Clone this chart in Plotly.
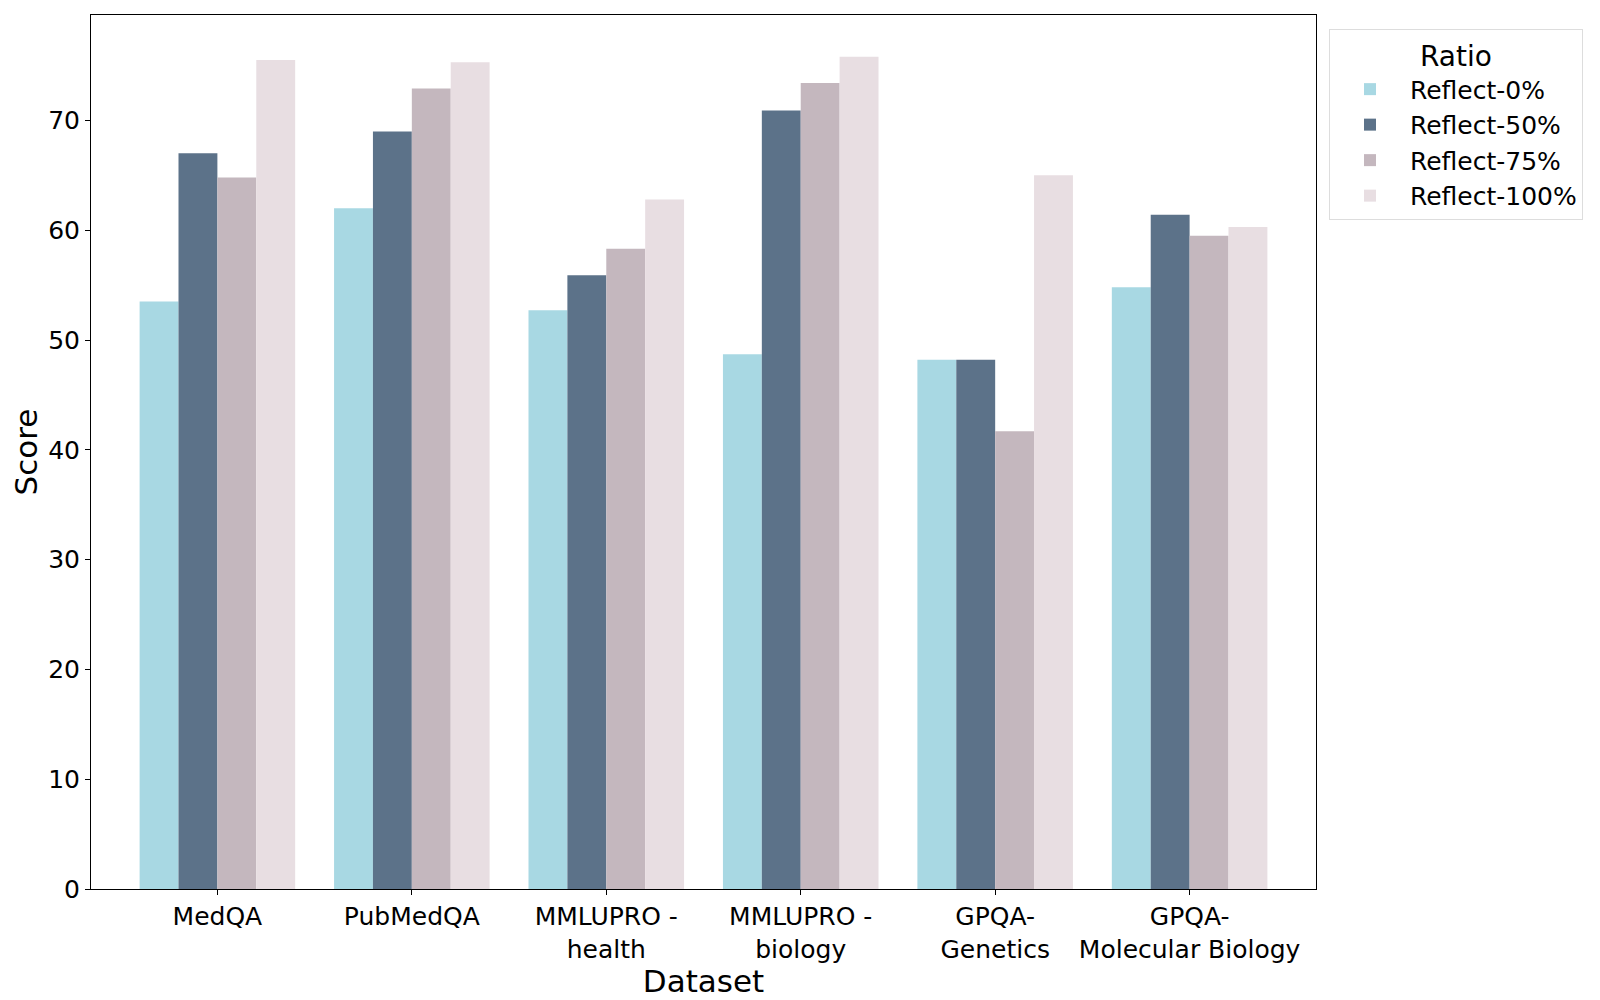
import plotly.graph_objects as go

categories = ["MedQA", "PubMedQA", "MMLUPRO -<br>health", "MMLUPRO -<br>biology",
              "GPQA-<br>Genetics", "GPQA-<br>Molecular Biology"]
series_names = ["Reflect-0%", "Reflect-50%", "Reflect-75%", "Reflect-100%"]
reflect_0 = [53.5, 62.0, 52.7, 48.7, 48.2, 54.8]
reflect_50 = [67.0, 69.0, 55.9, 70.9, 48.2, 61.4]
reflect_75 = [64.8, 72.9, 58.3, 73.4, 41.7, 59.5]
reflect_100 = [75.5, 75.3, 62.8, 75.8, 65.0, 60.3]
colors = ["#A8D8E3", "#5C7289", "#C4B7BE", "#E8DEE2"]
y_ticks = [0, 10, 20, 30, 40, 50, 60, 70]

font_family = "DejaVu Sans"
fig = go.Figure()
for name, vals, col in zip(series_names, [reflect_0, reflect_50, reflect_75, reflect_100], colors):
    fig.add_trace(go.Bar(x=list(range(len(categories))), y=vals, name=name,
                         marker=dict(color=col, line=dict(width=0))))

fig.update_layout(
    width=1600, height=1000,
    barmode="group", bargap=0.2, bargroupgap=0,
    plot_bgcolor="white", paper_bgcolor="white",
    margin=dict(l=83, r=292, t=7, b=119),
    font=dict(family=font_family, size=25, color="black"),
    legend=dict(
        title=dict(text="Ratio", font=dict(size=28), side="top center"),
        x=1.0106, y=0.984, xanchor="left", yanchor="top",
        bordercolor="#DDDDDD", borderwidth=1, bgcolor="white",
        font=dict(size=25), itemsizing="constant", itemwidth=70,
    ),
)
fig.update_xaxes(
    tickmode="array", tickvals=list(range(len(categories))), ticktext=categories,
    range=[-0.65, 5.65], showline=True, linecolor="black", linewidth=1, mirror=True,
    ticks="outside", ticklen=5, tickcolor="black", showgrid=False, zeroline=False,
    tickfont=dict(size=25),
    title=dict(text="Dataset", font=dict(size=31), standoff=0),
)
fig.update_yaxes(
    range=[0, 79.6], tickmode="array", tickvals=y_ticks,
    showline=True, linecolor="black", linewidth=1, mirror=True,
    ticks="outside", ticklen=5, tickcolor="black", showgrid=False, zeroline=False,
    tickfont=dict(size=25),
    title=dict(text="Score", font=dict(size=31), standoff=7),
)
fig.write_html("out.html")
